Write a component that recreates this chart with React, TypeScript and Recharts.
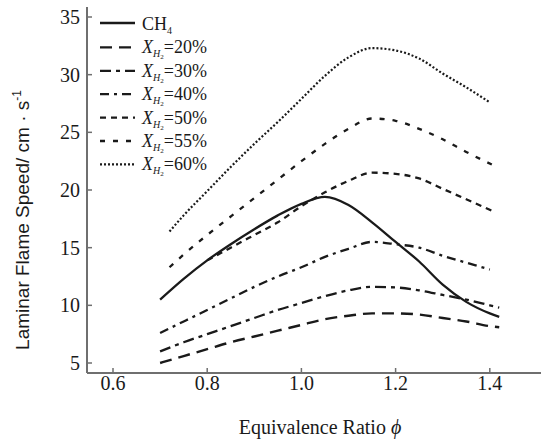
import { LineChart, Line, XAxis, YAxis } from "recharts";

// equivalence ratio grids
const phiCH4 = [0.7, 0.75, 0.8, 0.85, 0.9, 0.95, 1.0, 1.05, 1.1, 1.15, 1.2, 1.25, 1.3, 1.35, 1.4, 1.42];
const speedCH4 = [10.5, 12.3, 13.9, 15.3, 16.6, 17.8, 18.8, 19.4, 18.7, 17.2, 15.5, 13.8, 11.8, 10.3, 9.3, 9.0];

const phiH20 = [0.7, 0.75, 0.8, 0.85, 0.9, 0.95, 1.0, 1.05, 1.1, 1.15, 1.2, 1.25, 1.3, 1.35, 1.4, 1.42];
const speedH20 = [5.0, 5.6, 6.2, 6.8, 7.3, 7.8, 8.3, 8.8, 9.1, 9.3, 9.3, 9.2, 8.9, 8.6, 8.2, 8.1];

const phiH30 = [0.7, 0.75, 0.8, 0.85, 0.9, 0.95, 1.0, 1.05, 1.1, 1.15, 1.2, 1.25, 1.3, 1.35, 1.4, 1.42];
const speedH30 = [6.0, 6.8, 7.5, 8.2, 8.9, 9.6, 10.2, 10.8, 11.3, 11.6, 11.55, 11.3, 10.9, 10.5, 10.0, 9.8];

const phiH40 = [0.7, 0.75, 0.8, 0.85, 0.9, 0.95, 1.0, 1.05, 1.1, 1.15, 1.2, 1.25, 1.3, 1.35, 1.4];
const speedH40 = [7.6, 8.6, 9.6, 10.6, 11.6, 12.5, 13.3, 14.2, 14.9, 15.5, 15.3, 15.0, 14.3, 13.7, 13.1];

const phiH50 = [0.8, 0.85, 0.9, 0.95, 1.0, 1.05, 1.1, 1.15, 1.2, 1.25, 1.3, 1.35, 1.41];
const speedH50 = [13.9, 15.0, 16.1, 17.2, 18.6, 19.8, 20.8, 21.5, 21.4, 21.0, 20.1, 19.2, 18.1];

const phiH55 = [0.72, 0.75, 0.8, 0.85, 0.9, 0.95, 1.0, 1.05, 1.1, 1.15, 1.2, 1.25, 1.3, 1.35, 1.41];
const speedH55 = [13.3, 14.4, 16.1, 17.7, 19.3, 20.9, 22.5, 24.0, 25.3, 26.2, 26.0, 25.3, 24.4, 23.3, 22.1];

const phiH60 = [0.72, 0.75, 0.8, 0.85, 0.9, 0.95, 1.0, 1.05, 1.1, 1.15, 1.2, 1.25, 1.3, 1.35, 1.4];
const speedH60 = [16.4, 17.8, 19.9, 22.0, 24.0, 25.9, 27.9, 29.9, 31.5, 32.3, 32.1, 31.4, 30.1, 28.9, 27.6];

const xTicks = [0.6, 0.8, 1.0, 1.2, 1.4];
const yTicks = [5, 10, 15, 20, 25, 30, 35];

const toPoints = (phi: number[], v: number[]) => phi.map((p, i) => ({ phi: p, v: v[i] }));

const SERIES = [
  { key: "ch4", pct: "", data: toPoints(phiCH4, speedCH4), dash: undefined, width: 2.3 },
  { key: "h20", pct: "20%", data: toPoints(phiH20, speedH20), dash: "12 7", width: 2.4 },
  { key: "h30", pct: "30%", data: toPoints(phiH30, speedH30), dash: "11 5 4 5", width: 2.3 },
  { key: "h40", pct: "40%", data: toPoints(phiH40, speedH40), dash: "9 5 3 5", width: 2.3 },
  { key: "h50", pct: "50%", data: toPoints(phiH50, speedH50), dash: "6 5", width: 2.3 },
  { key: "h55", pct: "55%", data: toPoints(phiH55, speedH55), dash: "5 8", width: 2.3 },
  { key: "h60", pct: "60%", data: toPoints(phiH60, speedH60), dash: "2 2", width: 2.2 },
];

const SERIF = "Liberation Serif";
const SANS = "Liberation Sans";
const AXIS = "#6f6f6f";
const INK = "#1a1a1a";

function XTick({ x, y, payload }: any) {
  return (
    <text x={x} y={y} dy="0.71em" textAnchor="middle" fontFamily={SERIF} fontSize={20} fill={INK}>
      {Number(payload.value).toFixed(1)}
    </text>
  );
}

function YTick({ x, y, payload }: any) {
  return (
    <text x={x} y={y} dy="0.355em" textAnchor="end" fontFamily={SERIF} fontSize={20} fill={INK}>
      {payload.value}
    </text>
  );
}

function YTitle(props: any) {
  const vb = props.viewBox || { x: 0, y: 7, width: 87, height: 366 };
  const cx = vb.x + 29;
  const cy = vb.y + vb.height / 2 + 30;
  return (
    <text
      x={cx}
      y={cy}
      transform={`rotate(-90 ${cx} ${cy})`}
      textAnchor="middle"
      fontFamily={SANS}
      fontSize={19}
      fill={INK}
    >
      Laminar Flame Speed/ cm · s
      <tspan fontSize={12} dy={-8}>-1</tspan>
    </text>
  );
}

function XTitle(props: any) {
  const vb = props.viewBox || { x: 87, y: 373, width: 454, height: 67 };
  return (
    <text x={320} y={vb.y + 61} textAnchor="middle" fontFamily={SERIF} fontSize={20} fill={INK}>
      Equivalence Ratio <tspan fontStyle="italic">ϕ</tspan>
    </text>
  );
}

function LegendBox() {
  return (
    <svg
      width={541}
      height={200}
      style={{ position: "absolute", left: 0, top: 0, pointerEvents: "none" }}
    >
      {SERIES.map((s, i) => {
        const cy = 24 + i * 23.4;
        return (
          <g key={s.key}>
            <line
              x1={100}
              x2={135}
              y1={i === 0 ? cy - 1 : cy}
              y2={i === 0 ? cy - 1 : cy}
              stroke={INK}
              strokeWidth={s.width}
              strokeDasharray={s.dash}
            />
            {i === 0 ? (
              <text x={142} y={cy + 6} fontFamily={SERIF} fontSize={18} fill={INK}>
                CH<tspan fontSize={10} dy={4}>4</tspan>
              </text>
            ) : (
              <text x={142} y={cy + 6} fontFamily={SERIF} fontSize={18} fill={INK}>
                <tspan fontStyle="italic">X</tspan>
                <tspan fontStyle="italic" fontSize={10} dy={4}>H</tspan>
                <tspan fontSize={7} dy={2}>2</tspan>
                <tspan dy={-6}>={s.pct}</tspan>
              </text>
            )}
          </g>
        );
      })}
    </svg>
  );
}

export default function App() {
  const xDomain: [number, number] = [0.5448, 1.5087];
  return (
    <div style={{ position: "absolute", left: 0, top: 0, width: 541, height: 440, background: "#fff" }}>
      <LineChart width={541} height={440} margin={{ top: 7, right: 0, bottom: 0, left: 0 }}>
        <XAxis
          dataKey="phi"
          type="number"
          domain={xDomain}
          ticks={xTicks}
          allowDataOverflow
          height={67}
          axisLine={{ stroke: AXIS, strokeWidth: 2 }}
          tickLine={{ stroke: AXIS, strokeWidth: 1.5 }}
          tickSize={-5}
          tickMargin={8}
          tick={<XTick />}
          label={<XTitle />}
        />
        <XAxis
          xAxisId="top"
          orientation="top"
          type="number"
          domain={xDomain}
          height={0}
          tick={false}
          tickLine={false}
          axisLine={{ stroke: AXIS, strokeWidth: 2 }}
        />
        <YAxis
          type="number"
          domain={[4.133, 35.867]}
          ticks={yTicks}
          allowDataOverflow
          width={87}
          axisLine={{ stroke: AXIS, strokeWidth: 2 }}
          tickLine={{ stroke: AXIS, strokeWidth: 1.5 }}
          tickSize={-5}
          tickMargin={12}
          tick={<YTick />}
          label={<YTitle />}
        />
        {SERIES.map((s) => (
          <Line
            key={s.key}
            data={s.data}
            dataKey="v"
            type="monotone"
            stroke={INK}
            strokeWidth={s.width}
            strokeDasharray={s.dash}
            dot={false}
            activeDot={false}
            isAnimationActive={false}
          />
        ))}
      </LineChart>
      <LegendBox />
    </div>
  );
}
